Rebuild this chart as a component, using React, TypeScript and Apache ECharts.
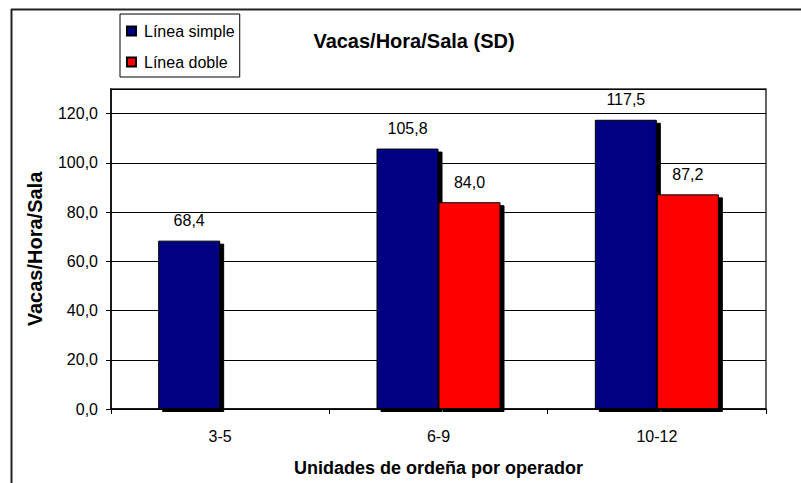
import React, { useEffect, useRef } from "react";
import * as echarts from "echarts";

const categories = ["3-5", "6-9", "10-12"];
const lineaSimple: (number | null)[] = [68.4, 105.8, 117.5];
const lineaDoble: (number | null)[] = [null, 84.0, 87.2];
const seriesNames = ["Línea simple", "Línea doble"];
const titleText = "Vacas/Hora/Sala (SD)";
const yName = "Vacas/Hora/Sala";
const xName = "Unidades de ordeña por operador";

const FONT = '"Liberation Sans", Arial, sans-serif';
const fmt = (v: number) => v.toFixed(1).replace(".", ",");

export default function App() {
  const ref = useRef<HTMLDivElement>(null);
  useEffect(() => {
    document.body.style.margin = "0";
    const chart = echarts.init(ref.current!, null, { renderer: "svg" });
    const barStyle = (color: string) => ({
      color,
      borderColor: "#000",
      borderWidth: 1,
      shadowColor: "#000",
      shadowBlur: 0,
      shadowOffsetX: 4,
      shadowOffsetY: 3,
    });
    const label = {
      show: true,
      position: "top" as const,
      distance: 12,
      color: "#000",
      fontSize: 16,
      fontFamily: FONT,
      formatter: (p: any) => fmt(p.value),
    };
    chart.setOption({
      animation: false,
      backgroundColor: "#fff",
      textStyle: { fontFamily: FONT },
      grid: {
        left: 111,
        right: 35,
        top: 89,
        bottom: 74,
        show: true,
        borderColor: "#333",
        borderWidth: 1.5,
        backgroundColor: "#fff",
      },
      legend: {
        orient: "vertical",
        left: 120,
        top: 14,
        padding: [8, 5, 6, 6],
        itemGap: 13,
        itemWidth: 9,
        itemHeight: 9,
        borderColor: "#000",
        borderWidth: 1,
        icon: "rect",
        itemStyle: { shadowOffsetX: 0, shadowOffsetY: 0, shadowColor: "transparent" },
        textStyle: { fontSize: 16, lineHeight: 18, color: "#000", fontFamily: FONT, padding: [0, 0, 0, 3] },
        data: seriesNames,
      },
      graphic: [
        {
          type: "text",
          x: 414,
          y: 41,
          style: {
            text: titleText,
            align: "center",
            verticalAlign: "middle",
            fontSize: 20,
            fontWeight: "bold",
            fontFamily: FONT,
            fill: "#000",
          },
        },
        { type: "line", shape: { x1: 11, y1: 9.5, x2: 801, y2: 9.5 }, style: { stroke: "#222", lineWidth: 2 } },
        { type: "line", shape: { x1: 11.5, y1: 9, x2: 11.5, y2: 483 }, style: { stroke: "#222", lineWidth: 2 } },
      ],
      xAxis: {
        type: "category",
        data: categories,
        name: xName,
        nameLocation: "middle",
        nameGap: 50,
        nameTextStyle: { fontSize: 18, fontWeight: "bold", color: "#000", fontFamily: FONT },
        axisLine: { lineStyle: { color: "#000", width: 1.5 } },
        axisTick: { show: true, length: 5, alignWithLabel: false, lineStyle: { color: "#000" } },
        axisLabel: { fontSize: 16, color: "#000", margin: 19, fontFamily: FONT },
        splitLine: { show: false },
      },
      yAxis: {
        type: "value",
        min: 0,
        max: 130,
        interval: 20,
        name: yName,
        nameLocation: "middle",
        nameGap: 66,
        nameTextStyle: { fontSize: 20, fontWeight: "bold", color: "#000", fontFamily: FONT },
        axisLine: { show: true, lineStyle: { color: "#000", width: 1.5 } },
        axisTick: { show: true, length: 5, lineStyle: { color: "#000" } },
        axisLabel: {
          fontSize: 16,
          color: "#000",
          margin: 13,
          fontFamily: FONT,
          showMaxLabel: false,
          formatter: (v: number) => (v > 120 ? "" : fmt(v)),
        },
        splitLine: { show: true, lineStyle: { color: "#000", width: 1 } },
      },
      series: [
        {
          name: seriesNames[0],
          type: "bar",
          data: lineaSimple,
          barWidth: 62,
          barGap: "0%",
          itemStyle: barStyle("#000080"),
          label,
        },
        {
          name: seriesNames[1],
          type: "bar",
          data: lineaDoble,
          barWidth: 62,
          barGap: "0%",
          itemStyle: barStyle("#FF0000"),
          label,
        },
      ],
    });
    return () => chart.dispose();
  }, []);
  return (
    <div
      ref={ref}
      style={{ position: "fixed", left: 0, top: 0, width: 801, height: 483 }}
    />
  );
}
